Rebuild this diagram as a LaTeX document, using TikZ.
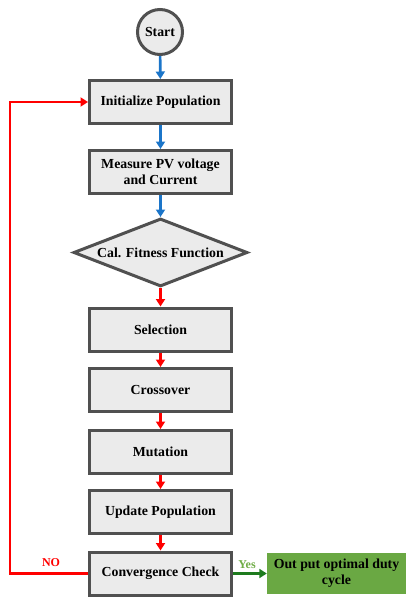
\documentclass[tikz,border=0pt]{standalone}
\usepackage{fontspec}
\setmainfont{Liberation Serif}
\usetikzlibrary{shapes.geometric,arrows.meta}
\definecolor{boxfill}{HTML}{EBEBEB}
\definecolor{boxline}{HTML}{505050}
\definecolor{flowblue}{HTML}{1B75C9}
\definecolor{flowred}{HTML}{FF0000}
\definecolor{yesgreen}{HTML}{1E7B1E}
\definecolor{yeslabel}{HTML}{70AD47}
\definecolor{outfill}{HTML}{6AA843}
\begin{document}
\begin{tikzpicture}[x=1pt,y=-1pt,
  every node/.style={font=\bfseries\fontsize{13.8}{15}\selectfont},
  procbox/.style={draw=boxline,line width=3pt,fill=boxfill,minimum width=142pt,minimum height=43pt,align=center,inner sep=0pt},
  startnode/.style={circle,draw=boxline,line width=3pt,fill=boxfill,minimum size=45pt,inner sep=0pt},
  decision/.style={diamond,draw=boxline,line width=3pt,fill=boxfill,aspect=2.55,minimum width=174pt,minimum height=68pt,inner sep=0pt},
  outbox/.style={fill=outfill,minimum width=139pt,minimum height=41pt,align=center,inner sep=0pt},
  tip/.style={-{Triangle[width=9pt,length=7.5pt]}},
  blueflow/.style={tip,draw=flowblue,line width=2.6pt},
  redflow/.style={tip,draw=flowred,line width=2.6pt},
  greenflow/.style={tip,draw=yesgreen,line width=3pt}]
\useasboundingbox (0,0) rectangle (406,599);

% main column of steps
\node[startnode] (start) at (160,32) {Start};
\node[procbox] (init) at (160.5,102) {Initialize Population};
\node[procbox] (meas) at (160.5,172) {Measure PV voltage\\[1pt]and Current};
\node[decision] (fit) at (160.5,252.5) {Cal. Fitness Function};
\node[procbox] (sel) at (160.5,329.5) {Selection};
\node[procbox] (cross) at (160.5,390) {Crossover};
\node[procbox] (mut) at (160.5,452) {Mutation};
\node[procbox] (upd) at (160.5,512) {Update Population};
\node[procbox] (conv) at (160.5,573.5) {Convergence Check};
\node[outbox] (out) at (336.5,573.5) {Out put optimal duty\\[1pt]cycle};

% downward flow
\draw[blueflow] (start) -- (init);
\draw[blueflow] (init) -- (meas);
\draw[blueflow] (meas) -- (fit);
\draw[redflow] (fit) -- (sel);
\draw[redflow] (sel) -- (cross);
\draw[redflow] (cross) -- (mut);
\draw[redflow] (mut) -- (upd);
\draw[redflow] (upd) -- (conv);

% loop back when not converged
\coordinate (loopbot) at (10,573.5);
\coordinate (looptop) at (10,102);
\draw[redflow] (conv.west) -- (loopbot) -- (looptop) -- (init.west);
\node[text=flowred,font=\bfseries\fontsize{12}{13}\selectfont] (nolab) at (51,563) {NO};

% exit when converged
\draw[greenflow] (conv.east) -- (out.west);
\node[text=yeslabel,font=\bfseries\fontsize{12}{13}\selectfont] (yeslab) at (247,565) {Yes};
\end{tikzpicture}
\end{document}
